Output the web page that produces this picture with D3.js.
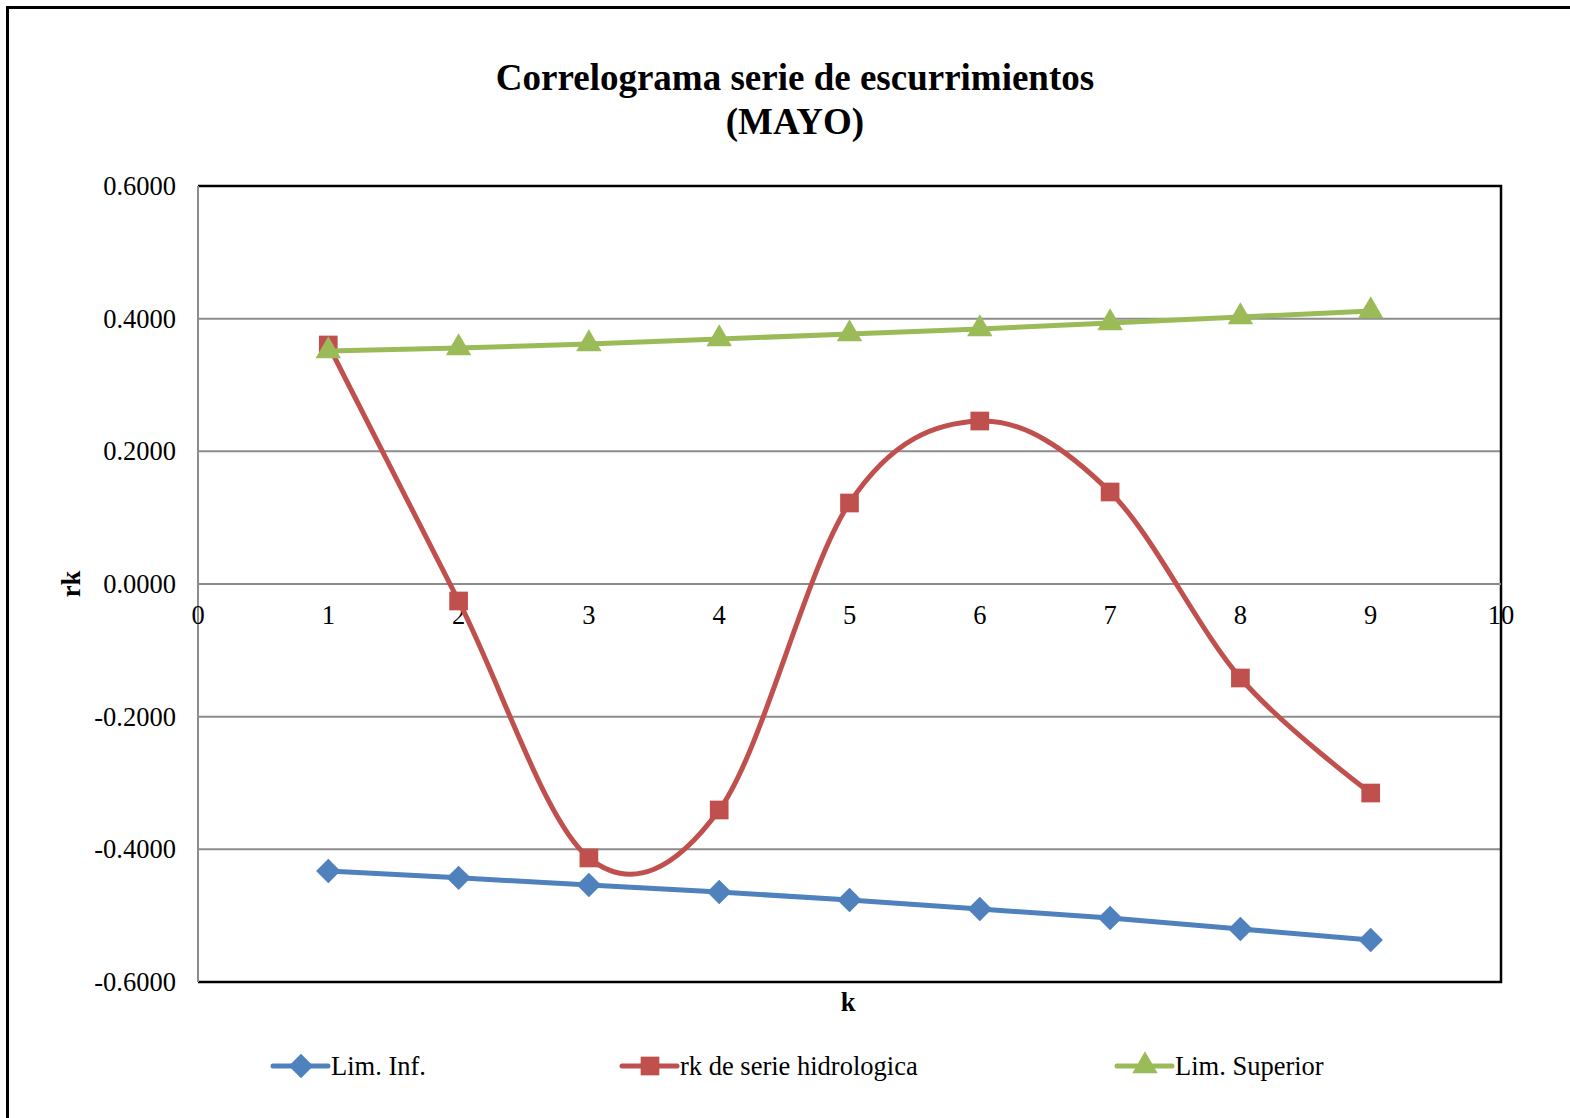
<!DOCTYPE html>
<html>
<head>
<meta charset="utf-8">
<script src="https://cdn.jsdelivr.net/npm/d3@7"></script>
<style>
  body { margin: 0; background: #fff; }
  svg { display: block; font-family: "Liberation Serif", "Times New Roman", serif; }
</style>
</head>
<body>
<svg class="chart" width="1570" height="1118"></svg>
<script>
const lags = [1, 2, 3, 4, 5, 6, 7, 8, 9];
const limInf = [-0.4327, -0.4430, -0.4538, -0.4643, -0.4764, -0.4900, -0.5035, -0.5200, -0.5367];
const rkSerie = [0.3603, -0.0256, -0.4130, -0.3407, 0.1221, 0.2457, 0.1387, -0.1417, -0.3151];
const limSup = [0.3513, 0.3558, 0.3618, 0.3693, 0.3769, 0.3844, 0.3935, 0.4025, 0.4116];
const yTicks = [-0.6, -0.4, -0.2, 0, 0.2, 0.4, 0.6];
const xTicks = [0, 1, 2, 3, 4, 5, 6, 7, 8, 9, 10];

const svg = d3.select(".chart");

// outer chart border
svg.append("rect")
    .attr("x", 7.5).attr("y", 7.5)
    .attr("width", 1600).attr("height", 1200)
    .attr("fill", "none").attr("stroke", "#000").attr("stroke-width", 3);

const pLeft = 198, pRight = 1501, pTop = 186, pBottom = 982;

const xScale = d3.scaleLinear().domain([0, 10]).range([pLeft, pRight]);
const yScale = d3.scaleLinear().domain([-0.6, 0.6]).range([pBottom, pTop]);

// gridlines
svg.append("g")
    .selectAll("line")
    .data(yTicks.filter(d => d !== -0.6 && d !== 0.6))
    .join("line")
    .attr("x1", pLeft).attr("x2", pRight)
    .attr("y1", d => yScale(d)).attr("y2", d => yScale(d))
    .attr("stroke", "#8c8c8c").attr("stroke-width", 2);

// plot border (top, right, bottom black)
svg.append("path")
    .attr("d", `M${pLeft},${pTop}H${pRight}V${pBottom}H${pLeft}`)
    .attr("fill", "none").attr("stroke", "#000").attr("stroke-width", 2.5);

// y axis
svg.append("line")
    .attr("x1", pLeft).attr("x2", pLeft).attr("y1", pTop).attr("y2", pBottom)
    .attr("stroke", "#8c8c8c").attr("stroke-width", 2);

svg.append("g")
    .selectAll("text")
    .data(yTicks)
    .join("text")
    .attr("x", 176)
    .attr("y", d => yScale(d) + 9)
    .attr("text-anchor", "end")
    .attr("font-size", 26.5)
    .text(d => d.toFixed(4));

// x axis at zero
const x0 = yScale(0);
svg.append("line")
    .attr("x1", pLeft).attr("x2", pRight).attr("y1", x0).attr("y2", x0)
    .attr("stroke", "#8c8c8c").attr("stroke-width", 2);

svg.append("g")
    .selectAll("text")
    .data(xTicks)
    .join("text")
    .attr("x", d => xScale(d))
    .attr("y", x0 + 40)
    .attr("text-anchor", "middle")
    .attr("font-size", 26.5)
    .text(d => d);

// titles
svg.append("text")
    .attr("x", 795).attr("y", 90)
    .attr("text-anchor", "middle")
    .attr("font-size", 37).attr("font-weight", "bold")
    .text("Correlograma serie de escurrimientos");
svg.append("text")
    .attr("x", 795).attr("y", 134)
    .attr("text-anchor", "middle")
    .attr("font-size", 37).attr("font-weight", "bold")
    .text("(MAYO)");

svg.append("text")
    .attr("transform", `translate(80, ${x0}) rotate(-90)`)
    .attr("text-anchor", "middle")
    .attr("font-size", 26.5).attr("font-weight", "bold")
    .text("rk");
svg.append("text")
    .attr("x", 848).attr("y", 1011)
    .attr("text-anchor", "middle")
    .attr("font-size", 26.5).attr("font-weight", "bold")
    .text("k");

const series = [
    { name: "Lim. Inf.", values: limInf, color: "#4F81BD", symbol: d3.symbolDiamond2, size: 380, curve: d3.curveLinear, legendX: 273 },
    { name: "rk de serie hidrologica", values: rkSerie, color: "#C0504D", symbol: d3.symbolSquare, size: 350, curve: d3.curveCardinal.tension(0), legendX: 622 },
    { name: "Lim. Superior", values: limSup, color: "#9BBB59", symbol: d3.symbolTriangle, size: 280, curve: d3.curveLinear, legendX: 1117 }
];

series.forEach(s => {
    const pts = lags.map((k, i) => ({ x: k, y: s.values[i] }));
    const line = d3.line()
        .x(d => xScale(d.x))
        .y(d => yScale(d.y))
        .curve(s.curve);

    svg.append("path")
        .datum(pts)
        .attr("fill", "none")
        .attr("stroke", s.color)
        .attr("stroke-width", 5)
        .attr("stroke-linejoin", "round")
        .attr("stroke-linecap", "round")
        .attr("d", line);

    const sym = d3.symbol().type(s.symbol).size(s.size);
    svg.append("g")
        .selectAll("path")
        .data(pts)
        .join("path")
        .attr("transform", d => `translate(${xScale(d.x)}, ${yScale(d.y)})`)
        .attr("d", sym)
        .attr("fill", s.color);

    // legend
    const ly = 1066;
    svg.append("line")
        .attr("x1", s.legendX).attr("x2", s.legendX + 55)
        .attr("y1", ly).attr("y2", ly)
        .attr("stroke", s.color).attr("stroke-width", 5)
        .attr("stroke-linecap", "round");
    svg.append("path")
        .attr("transform", `translate(${s.legendX + 28}, ${ly})`)
        .attr("d", sym)
        .attr("fill", s.color);
    svg.append("text")
        .attr("x", s.legendX + 58).attr("y", ly + 9)
        .attr("font-size", 26.5)
        .text(s.name);
});
</script>
</body>
</html>
